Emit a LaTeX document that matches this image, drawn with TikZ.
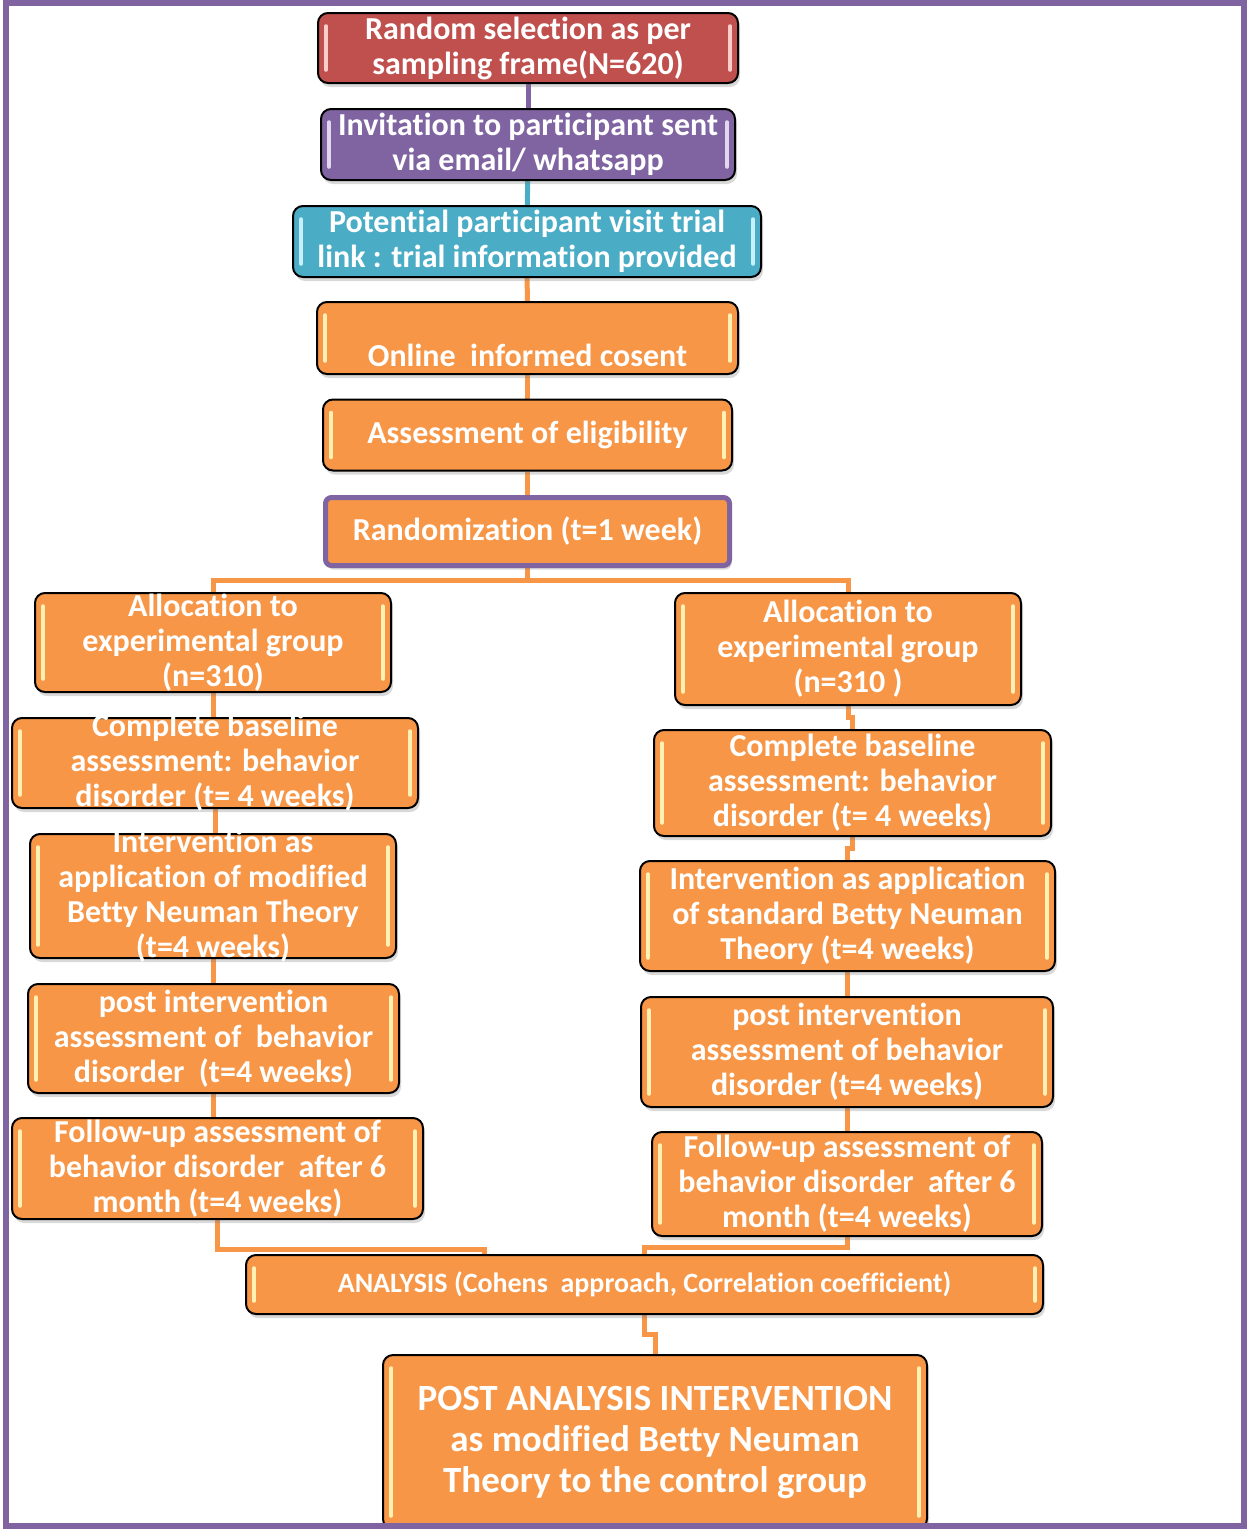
\documentclass[tikz,border=0pt]{standalone}
\usepackage{fontspec}
\setmainfont{Carlito}[Ligatures=NoCommon]
\usetikzlibrary{calc,shadows,backgrounds}

\definecolor{accred}{RGB}{192,80,77}
\definecolor{accpurple}{RGB}{128,100,162}
\definecolor{accblue}{RGB}{75,172,198}
\definecolor{accorange}{RGB}{247,150,70}
\definecolor{hlorange}{RGB}{255,240,180}
\definecolor{hlred}{RGB}{250,205,205}
\definecolor{hlpurple}{RGB}{225,215,240}
\definecolor{hlblue}{RGB}{200,240,250}

\tikzset{every picture/.style={line width=0.75pt}}
\tikzset{
  flowbox/.style={draw=black, line width=2pt, rounded corners=10pt, fill=accorange,
    text=white, font=\fontsize{32}{35}\selectfont\bfseries, align=center,
    inner xsep=2pt, inner ysep=-8pt,
    drop shadow={shadow xshift=2pt, shadow yshift=-4pt, opacity=0.3}},
  conn/.style={line width=5pt, draw=accorange},
  hl/.style={line width=3.5pt, line cap=round},
}

\begin{document}
\begin{tikzpicture}[x=1pt,y=1pt,yscale=-1,xscale=1]
\useasboundingbox (0,0) rectangle (1249,1529);

%Shape: Boxes top chain
\node (ran) [flowbox, fill=accred, minimum width=420, minimum height=70] at (528,48) {Random selection as per\\sampling frame(N=620)};
\node (inv) [flowbox, fill=accpurple, minimum width=414, minimum height=71] at (528,144.5) {Invitation to participant sent\\via email/ whatsapp};
\node (vis) [flowbox, fill=accblue, minimum width=468, minimum height=71] at (527,241.5) {Potential participant visit trial\\link : trial information provided};
\node (con) [flowbox, text height=56pt, text depth=0pt, minimum width=421, minimum height=72] at (527.5,338) {Online\ \ informed cosent};
\node (eli) [flowbox, minimum width=409, minimum height=71] at (527.5,435) {Assessment of eligibility};
\node (rnd) [flowbox, draw=accpurple, line width=5pt, rounded corners=6pt, drop shadow={opacity=0}, minimum width=404, minimum height=68] at (527.5,531.5) {Randomization (t=1 week)};

%Shape: Boxes left column
\node (l1) [flowbox, minimum width=356, minimum height=99] at (213,642.5) {Allocation to\\experimental group\\(n=310)};
\node (l2) [flowbox, minimum width=406, minimum height=90] at (215,763) {Complete baseline\\assessment: behavior\\disorder (t= 4 weeks)};
\node (l3) [flowbox, minimum width=366, minimum height=124] at (213,896) {Intervention as\\application of modified\\Betty Neuman Theory\\(t=4 weeks)};
\node (l4) [flowbox, minimum width=371, minimum height=109] at (213.5,1038.5) {post intervention\\assessment of\ \ behavior\\disorder\ \ (t=4 weeks)};
\node (l5) [flowbox, minimum width=411, minimum height=101] at (217.5,1168.5) {Follow-up assessment of\\behavior disorder\ \ after 6\\month (t=4 weeks)};

%Shape: Boxes right column
\node (r1) [flowbox, minimum width=346, minimum height=112] at (848,649) {Allocation to\\experimental group\\(n=310 )};
\node (r2) [flowbox, minimum width=397, minimum height=106] at (852.5,783) {Complete baseline\\assessment: behavior\\disorder (t= 4 weeks)};
\node (r3) [flowbox, minimum width=415, minimum height=110] at (847.5,916) {Intervention as application\\of standard Betty Neuman\\Theory (t=4 weeks)};
\node (r4) [flowbox, minimum width=412, minimum height=110] at (847,1052) {post intervention\\assessment of behavior\\disorder (t=4 weeks)};
\node (r5) [flowbox, minimum width=390, minimum height=104] at (847,1184) {Follow-up assessment of\\behavior disorder\ \ after 6\\month (t=4 weeks)};

%Shape: Boxes bottom
\node (ana) [flowbox, font=\fontsize{28}{30}\selectfont\bfseries, minimum width=797, minimum height=59] at (644.5,1284.5) {ANALYSIS (Cohens\ \ approach, Correlation coefficient)};
\node (pai) [flowbox, font=\fontsize{37}{41}\selectfont\bfseries, minimum width=544, minimum height=174] at (655,1442) {POST ANALYSIS INTERVENTION\\as modified Betty Neuman\\Theory to the control group};

%Highlights
\foreach \n/\c in {ran/hlred,inv/hlpurple,vis/hlblue,con/hlorange,eli/hlorange,l1/hlorange,l2/hlorange,l3/hlorange,l4/hlorange,l5/hlorange,r1/hlorange,r2/hlorange,r3/hlorange,r4/hlorange,r5/hlorange,ana/hlorange,pai/hlorange} {
  \draw[hl, draw=\c] ($(\n.north west)+(9,14)$) -- ($(\n.south west)+(9,-14)$);
  \draw[hl, draw=\c] ($(\n.north east)+(-9,14)$) -- ($(\n.south east)+(-9,-14)$);
}

%Straight Lines
\begin{scope}[on background layer]
\draw[conn, draw=accpurple] (ran) -- (inv);
\draw[conn, draw=accblue] (inv) -- (vis);
\draw[conn] (vis) -- (con);
\draw[conn] (con) -- (eli);
\draw[conn] (eli) -- (rnd);
\draw[conn] (rnd.south) -- ++(0,12) coordinate (split);
\draw[conn] (l1.north) |- (split) -| (r1.north);
\draw[conn] (l1.south) -- (l1.south |- l2.north);
\draw[conn] (l2.south) -- (l2.south |- l3.north);
\draw[conn] (l3.south) -- (l3.south |- l4.north);
\draw[conn] (l4.south) -- (l4.south |- l5.north);
\foreach \a/\b in {r1/r2,r2/r3,r3/r4,r4/r5,ana/pai}
  \draw[conn] (\a.south) |- ($(\a.south)!0.5!(\b.north)$) -| (\b.north);
\draw[conn] (l5.south) -- ++(0,29) -| ([xshift=-160pt]ana.north);
\draw[conn] (r5.south) -- ++(0,10) -| (ana.north);
\end{scope}

%Frame
\draw[accpurple, line width=6pt] (6,3) rectangle (1244,1526);
\end{tikzpicture}
\end{document}
